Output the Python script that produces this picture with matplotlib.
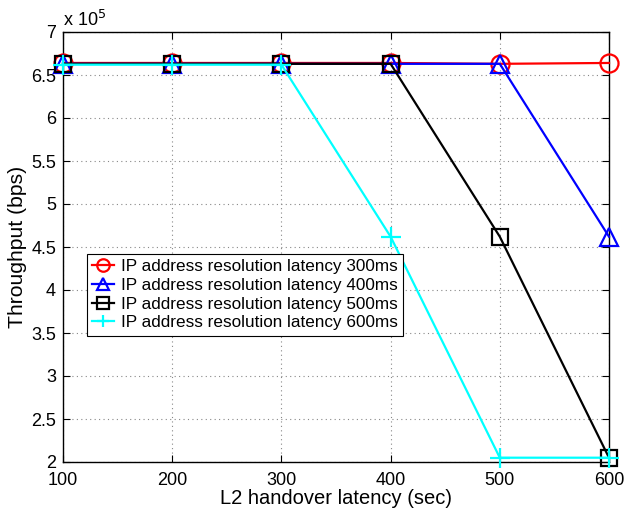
import matplotlib
matplotlib.use("Agg")
import matplotlib.pyplot as plt
from matplotlib.ticker import FuncFormatter

plt.rcParams['font.family'] = ['Liberation Sans', 'DejaVu Sans']

handover = [100, 200, 300, 400, 500, 600]
thr_300 = [6.64e5, 6.64e5, 6.64e5, 6.64e5, 6.63e5, 6.64e5]
thr_400 = [6.63e5, 6.63e5, 6.63e5, 6.63e5, 6.63e5, 4.62e5]
thr_500 = [6.63e5, 6.63e5, 6.63e5, 6.63e5, 4.62e5, 2.05e5]
thr_600 = [6.62e5, 6.62e5, 6.62e5, 4.62e5, 2.05e5, 2.05e5]
labels = ['IP address resolution latency 300ms',
          'IP address resolution latency 400ms',
          'IP address resolution latency 500ms',
          'IP address resolution latency 600ms']

fig = plt.figure(figsize=(6.26, 5.08), dpi=100)
ax = fig.add_axes([63/626, 1-462/508, (609-63)/626, (462-32)/508])

lw = 1.6
common = dict(mfc='none', mew=lw, lw=lw, clip_on=False)
ax.plot(handover, thr_300, color='red', marker='o', ms=13, label=labels[0], **common)
ax.plot(handover, thr_400, color='blue', marker='^', ms=13, label=labels[1], **common)
ax.plot(handover, thr_500, color='black', marker='s', ms=11, label=labels[2], **common)
ax.plot(handover, thr_600, color='cyan', marker='+', ms=14, label=labels[3], **common)

ax.set_xlim(100, 600)
ax.set_ylim(2e5, 7e5)
ax.set_xticks(handover)
ax.set_yticks([2e5 + 0.5e5 * i for i in range(11)])
ax.yaxis.set_major_formatter(FuncFormatter(lambda v, p: f"{v/1e5:g}"))
ax.tick_params(direction='in', top=True, right=True, labelsize=13, length=5, width=0.8)
ax.tick_params(axis='x', pad=7)
ax.tick_params(axis='y', pad=5)
ax.grid(True, linestyle=(0, (1, 3)), color='#888888', linewidth=0.8)
ax.set_axisbelow(True)
for s in ax.spines.values():
    s.set_linewidth(1.0)
    s.set_zorder(1.5)

ax.text(0.0, 1.005, r'x 10$^{5}$', transform=ax.transAxes, fontsize=13, ha='left', va='bottom')
ax.set_xlabel('L2 handover latency (sec)', fontsize=14.5, labelpad=0)
ax.set_ylabel('Throughput (bps)', fontsize=15.2, labelpad=3)

leg = ax.legend(loc='upper left', bbox_to_anchor=((87-63)/546, (462-254)/430),
                fontsize=12.3, frameon=True, fancybox=False, framealpha=1,
                edgecolor='black', handlelength=1.3, handletextpad=0.4,
                borderpad=0.3, labelspacing=0.22, borderaxespad=0)
leg.get_frame().set_linewidth(0.8)
for h in leg.legend_handles:
    h.set_markersize(9)

fig.savefig('out.png', dpi=100)
